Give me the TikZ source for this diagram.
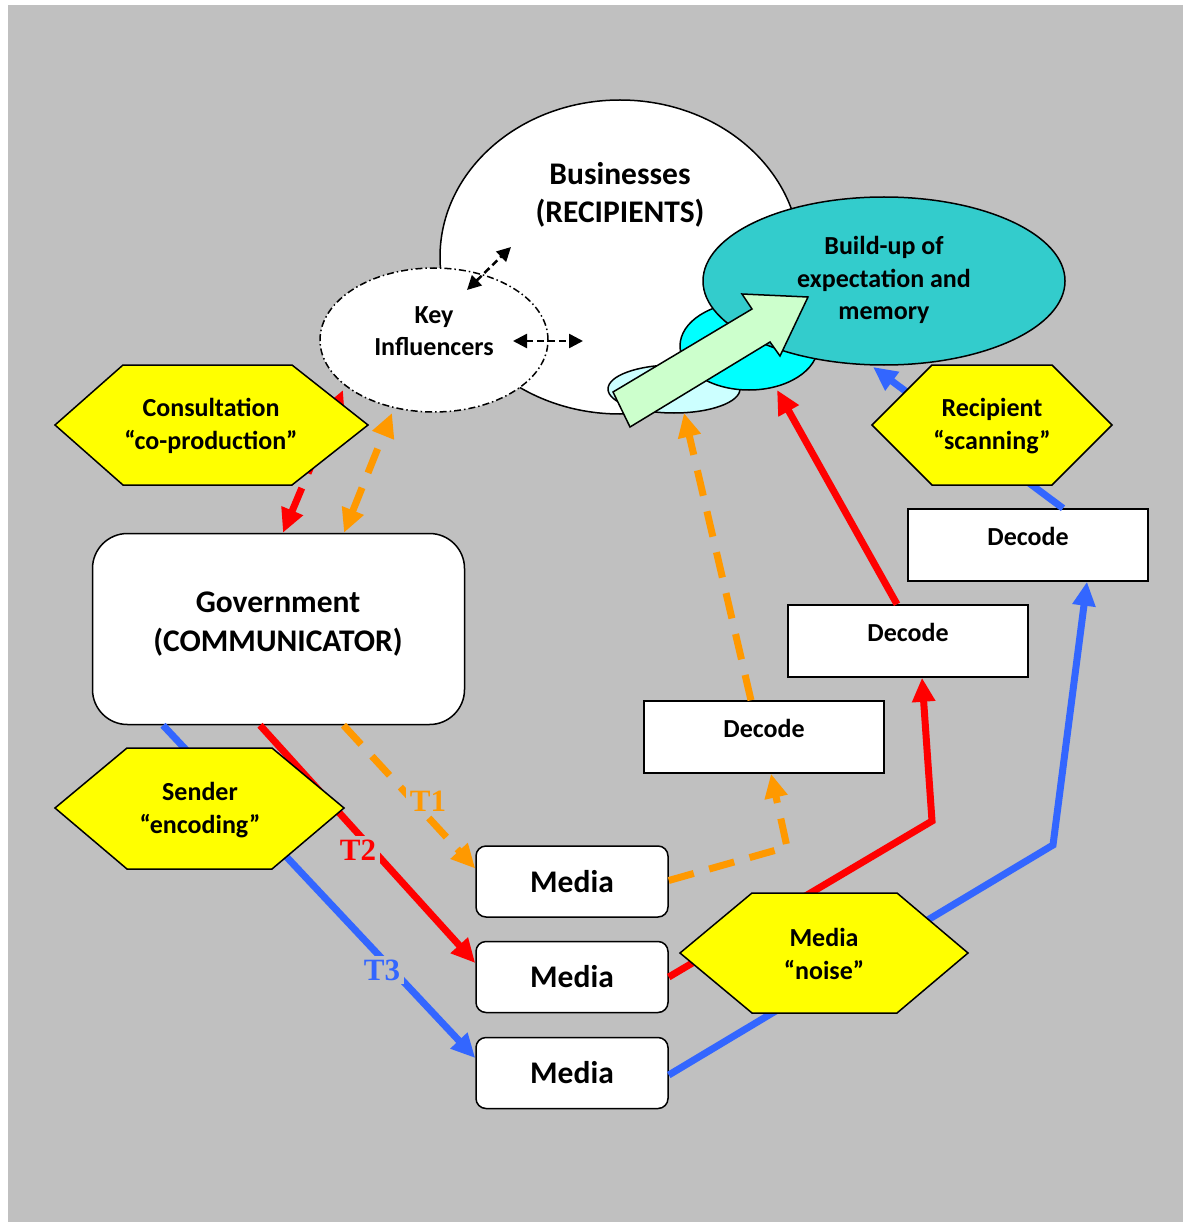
\documentclass[tikz,border=0pt]{standalone}
\usepackage{fontspec}
\setmainfont{Carlito}
\newfontfamily\tfont{Liberation Serif}
\usetikzlibrary{arrows.meta,shapes.geometric,calc}
\definecolor{bgray}{HTML}{C0C0C0}
\definecolor{hexyellow}{HTML}{FFFF00}
\definecolor{tealc}{HTML}{33CCCC}
\definecolor{cyanc}{HTML}{00FFFF}
\definecolor{lcyan}{HTML}{CCFFFF}
\definecolor{lgreen}{HTML}{CCFFCC}
\definecolor{orangec}{HTML}{FF9900}
\definecolor{redc}{HTML}{FF0000}
\definecolor{bluec}{HTML}{3366FF}
\begin{document}
\begin{tikzpicture}[x=1pt,y=-1pt,
  small/.style={font=\fontsize{26}{32.5}\selectfont\bfseries, align=center, inner sep=0pt},
  big/.style={font=\fontsize{31.5}{38.5}\selectfont\bfseries, align=center, inner sep=0pt},
  ell/.style={ellipse, draw=black, line width=1.5pt, inner sep=0pt, outer sep=0pt},
  hexfill/.style={fill=hexyellow, draw=black, line width=1.5pt, line join=miter},
  mediabox/.style={draw=black, fill=white, line width=1.5pt, rounded corners=10pt, minimum width=192pt, minimum height=71pt, inner sep=0pt},
  decbox/.style={draw=black, fill=white, line width=1.5pt, minimum width=240pt, minimum height=72pt, inner sep=0pt},
  flow/.style={line width=7pt, -{Triangle[length=24pt,width=22pt]}},
  flow2/.style={line width=7pt, {Triangle[length=24pt,width=22pt]}-{Triangle[length=24pt,width=22pt]}},
  dashy/.style={dash pattern=on 26pt off 16pt},
  smallarr/.style={line width=2.5pt, dash pattern=on 7pt off 4pt, {Triangle[length=14pt,width=14pt]}-{Triangle[length=14pt,width=14pt]}},
  tlab/.style={font=\tfont\bfseries\fontsize{31}{31}\selectfont, fill=bgray, inner sep=4pt}
]
\useasboundingbox (0,0) rectangle (1183,1222);
\fill[white] (0,0) rectangle (1183,1222);
\fill[bgray] (8,5) rectangle (1183,1222);

% Businesses (recipients)
\node[ell, fill=white, minimum width=360pt, minimum height=314pt] (bus) at (620,257) {};
\node[big] (bustxt) at (620,195) {Businesses\\(RECIPIENTS)};

% Key influencers
\node[ell, fill=white, dash pattern=on 7pt off 3pt on 1.5pt off 3pt, minimum width=228pt, minimum height=144pt] (ki) at (434,340) {};
\node[small] (kitxt) at (434,331) {Key\\Influencers};

\coordinate (ka1) at (467,290);
\coordinate (ka2) at (511,247);
\coordinate (kb1) at (513,341);
\coordinate (kb2) at (583,341);
\draw[smallarr] (ka1) -- (ka2);
\draw[smallarr] (kb1) -- (kb2);

% memory cluster
\node[ell, fill=lcyan, minimum width=132pt, minimum height=48pt] (mem3) at (674,389) {};
\node[ell, fill=cyanc, minimum width=138pt, minimum height=88pt] (mem2) at (749,346) {};
\node[ell, fill=tealc, minimum width=362pt, minimum height=168pt] (mem1) at (884,281) {};
\node[small] (memtxt) at (884,280) {Build-up of\\expectation and\\memory};

% big green block arrow
\draw[fill=lgreen, line width=1.5pt, line join=miter] (613,392) -- (752,309) -- (742,294) -- (808,297) -- (780,356) -- (770,342) -- (630,427) -- cycle;

% Government
\node[draw=black, fill=white, line width=1.5pt, rounded corners=35pt, minimum width=372pt, minimum height=191pt, inner sep=0pt] (gov) at (278.5,629) {};
\node[big] (govtxt) at (278,624) {Government\\(COMMUNICATOR)};

% Media boxes
\node[mediabox] (m1) at (572,881.5) {};
\node[mediabox] (m2) at (572,977) {};
\node[mediabox] (m3) at (572,1073) {};
\node[big] at (m1) {Media};
\node[big] at (m2) {Media};
\node[big] at (m3) {Media};

% Decode boxes
\node[decbox] (d1) at (764,737) {};
\node[decbox] (d2) at (908,641) {};
\node[decbox] (d3) at (1028,545) {};
\node[small] at ([yshift=-28pt]d1.north) {Decode};
\node[small] at ([yshift=-28pt]d2.north) {Decode};
\node[small] at ([yshift=-28pt]d3.north) {Decode};

% Government to media (T1, T2, T3)
\draw[flow, orangec, dashy] ([xshift=65pt]gov.south) -- ([yshift=13pt]m1.west);
\draw[flow, redc] ([xshift=-18.5pt]gov.south) -- ([yshift=14pt]m2.west);
\draw[flow, bluec] ([xshift=-115.5pt]gov.south) -- ([yshift=15pt]m3.west);
\node[tlab, text=orangec] (t1) at (428,801) {T1};
\node[tlab, text=redc] (t2) at (358,850) {T2};
\node[tlab, text=bluec] (t3) at (382,970) {T3};

% Media to decode
\coordinate (c1) at (787,847);
\coordinate (c2) at (932,821);
\coordinate (c3) at (1053,845);
\draw[flow, orangec, dashy] ([yshift=1pt]m1.east) -- (c1) -- ([xshift=7pt]d1.south);
\draw[flow, redc] (m2.east) -- (c2) -- ([xshift=14pt]d2.south);
\draw[flow, bluec] ([yshift=-2pt]m3.east) -- (c3) -- ([xshift=59pt]d3.south);

% Decode to memory
\coordinate (e1) at (684,413);
\coordinate (e2) at (777,390);
\coordinate (e3) at (873,367);
\draw[flow, orangec, dashy] ([xshift=-13pt]d1.north) -- (e1);
\draw[flow, redc] ([xshift=-11pt]d2.north) -- (e2);
\draw[flow, bluec] ([xshift=35pt]d3.north) -- (e3);

% Consultation links
\coordinate (k1) at (343,390);
\coordinate (k2) at (392,413);
\draw[flow2, redc, dashy] ([xshift=4.5pt]gov.north) -- (k1);
\draw[flow2, orangec, dashy] ([xshift=65.5pt]gov.north) -- (k2);

% Hexagons
\draw[hexfill] (55,425) -- (123,365) -- (292,365) -- (368,425) -- (292,485) -- (123,485) -- cycle;
\node[small] (cons) at (211,426) {Consultation\\``co-production''};
\draw[hexfill] (55,808) -- (127,748) -- (272,748) -- (344,808) -- (272,869) -- (127,869) -- cycle;
\node[small] (send) at (200,810) {Sender\\``encoding''};
\draw[hexfill] (872,425) -- (932,365) -- (1052,365) -- (1112,425) -- (1052,485) -- (932,485) -- cycle;
\node[small] (recip) at (992,426) {Recipient\\``scanning''};
\draw[hexfill] (680,953) -- (752,893) -- (897,893) -- (968,953) -- (897,1013) -- (752,1013) -- cycle;
\node[small] (noise) at (824,954) {Media\\``noise''};
\end{tikzpicture}
\end{document}
